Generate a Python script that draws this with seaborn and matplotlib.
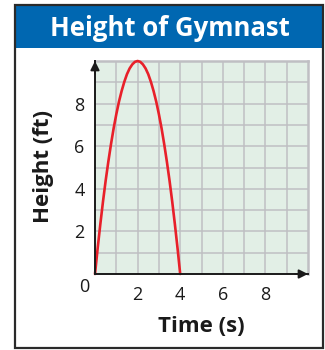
import matplotlib
matplotlib.use("Agg")
import matplotlib.pyplot as plt
from matplotlib.patches import Rectangle
import seaborn as sns
import pandas as pd

# Gymnast height over time (read at eighth-second steps)
time_s = [0, 0.125, 0.25, 0.375, 0.5, 0.625, 0.75, 0.875, 1,
          1.125, 1.25, 1.375, 1.5, 1.625, 1.75, 1.875, 2,
          2.125, 2.25, 2.375, 2.5, 2.625, 2.75, 2.875, 3,
          3.125, 3.25, 3.375, 3.5, 3.625, 3.75, 3.875, 4]
height_ft = [0, 1.21, 2.34, 3.40, 4.38, 5.27, 6.09, 6.84, 7.5,
             8.09, 8.59, 9.02, 9.38, 9.65, 9.84, 9.96, 10,
             9.96, 9.84, 9.65, 9.38, 9.02, 8.59, 8.09, 7.5,
             6.84, 6.09, 5.27, 4.38, 3.40, 2.34, 1.21, 0]
x_ticks = [1, 2, 3, 4, 5, 6, 7, 8, 9]
x_tick_labels = ["", "2", "", "4", "", "6", "", "8", ""]
y_ticks = [1, 2, 3, 4, 5, 6, 7, 8, 9]
y_tick_labels = ["", "2", "", "4", "", "6", "", "8", ""]
title = "Height of Gymnast"
x_label = "Time (s)"
y_label = "Height (ft)"

sns.set_style("white")
plt.rcParams["font.family"] = ["Open Sans", "DejaVu Sans"]

W, H = 325, 350
fig = plt.figure(figsize=(W / 100, H / 100), dpi=100)


def fx(px):
    return px / W


def fy(py):
    return 1 - py / H


# Outer frame and title banner
fig.patches.append(Rectangle((fx(16), fy(48)), fx(322) - fx(16), fy(6) - fy(48),
                             transform=fig.transFigure, facecolor="#0067b1",
                             edgecolor="none", zorder=1))
fig.patches.append(Rectangle((fx(15), fy(347.5)), fx(323) - fx(15), fy(5) - fy(347.5),
                             transform=fig.transFigure, facecolor="none",
                             edgecolor="#2a2a2a", linewidth=1.6, zorder=2))
fig.text(fx(170), fy(35.5), title, color="white", fontsize=18.5, fontweight="bold",
         ha="center", va="baseline")

ax = fig.add_axes([fx(95), fy(274), fx(308) - fx(95), fy(61) - fy(274)])
ax.set_facecolor("#e2efe6")
ax.set_xlim(0, 10)
ax.set_ylim(0, 10)

df = pd.DataFrame({"t": time_s, "h": height_ft})
sns.lineplot(data=df, x="t", y="h", ax=ax, color="#e8202a", linewidth=1.9,
             clip_on=False, zorder=5)

ax.set_xticks(x_ticks)
ax.set_xticklabels(x_tick_labels)
ax.set_yticks(y_ticks)
ax.set_yticklabels(y_tick_labels)
ax.grid(True, color="#bfbfc3", linewidth=1.1)
ax.set_axisbelow(True)
ax.tick_params(axis="both", direction="inout", length=9, width=1.2,
               color="#1a1a1a", labelsize=13, labelcolor="#1a1a1a")
ax.tick_params(axis="x", pad=4)
ax.tick_params(axis="y", pad=3)
ax.set_xlabel("")
ax.set_ylabel("")

for side in ("top", "right"):
    ax.spines[side].set_color("#bfbfc3")
    ax.spines[side].set_linewidth(1.8)
for side in ("left", "bottom"):
    ax.spines[side].set_color("#1a1a1a")
    ax.spines[side].set_linewidth(1.4)
    ax.spines[side].set_zorder(6)

# Axis arrows
ax.annotate("", xy=(0, 10.0), xytext=(0, 9.4), annotation_clip=False,
            arrowprops=dict(arrowstyle="-|>", color="#1a1a1a", lw=1.4,
                            mutation_scale=13, shrinkA=0, shrinkB=0), zorder=7)
ax.annotate("", xy=(10.0, 0), xytext=(9.4, 0), annotation_clip=False,
            arrowprops=dict(arrowstyle="-|>", color="#1a1a1a", lw=1.4,
                            mutation_scale=13, shrinkA=0, shrinkB=0), zorder=7)

fig.text(fx(84.5), fy(287.5), "0", fontsize=13, color="#1a1a1a",
         ha="center", va="center")
fig.text(fx(201), fy(332), x_label, fontsize=16, fontweight="bold",
         color="#1a1a1a", ha="center", va="baseline")
fig.text(fx(43), fy(167), y_label, fontsize=16, fontweight="bold",
         color="#1a1a1a", ha="center", va="center", rotation=90)

fig.savefig("out.png", dpi=100)
